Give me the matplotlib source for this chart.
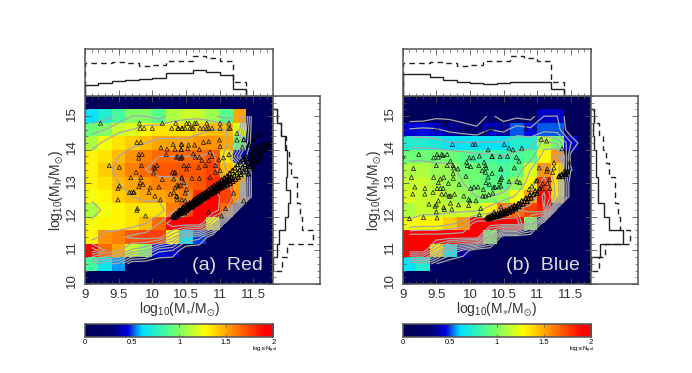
import numpy as np
import matplotlib
matplotlib.use("Agg")
import matplotlib.pyplot as plt
from matplotlib.colors import LinearSegmentedColormap
from matplotlib.ticker import MultipleLocator
from matplotlib.transforms import ScaledTranslation

plt.rcParams['font.family'] = ['Liberation Sans', 'DejaVu Sans']
plt.rcParams['mathtext.default'] = 'regular'

# === Data ===
x_edges = [9.0, 9.2, 9.4, 9.6, 9.8, 10.0, 10.2, 10.4, 10.6, 10.8, 11.0, 11.2, 11.4, 11.6, 11.8]
y_edges = [15.2, 14.8, 14.4, 14.0, 13.6, 13.2, 12.8, 12.4, 12.0, 11.6, 11.2, 10.8, 10.4]

red_grid = [
    [.62, .72, .85, 1.0, 1.0, .9, 1.1, 1.15, 1.15, 1.05, .9, 1.5, 0, 0],
    [.95, 1.0, 1.15, 1.2, 1.3, 1.35, 1.35, 1.35, 1.4, 1.45, 1.45, 1.2, 0, 0],
    [1.1, 1.25, 1.35, 1.4, 1.45, 1.5, 1.5, 1.5, 1.55, 1.55, 1.5, .95, 0, 0],
    [1.3, 1.35, 1.45, 1.55, 1.6, 1.65, 1.65, 1.65, 1.65, 1.7, 1.35, .4, 0, 0],
    [1.3, 1.4, 1.5, 1.6, 1.65, 1.7, 1.7, 1.7, 1.7, 1.75, 1.45, 1.25, 0, 0],
    [1.3, 1.35, 1.45, 1.5, 1.55, 1.6, 1.6, 1.65, 1.7, 1.8, 1.7, 1.5, 0, 0],
    [1.25, 1.3, 1.4, 1.45, 1.5, 1.5, 1.55, 1.6, 1.8, 1.95, 1.75, 1.55, 0, 0],
    [1.1, 1.25, 1.3, 1.35, 1.35, 1.35, 1.6, 1.75, 2.0, 2.0, 1.65, 0, 0, 0],
    [1.25, 1.3, 1.3, 1.35, 1.45, 1.65, 2.0, 2.0, 2.0, 1.3, 0, 0, 0, 0],
    [1.3, 1.55, 1.6, 1.7, 1.75, 1.75, 1.3, .62, .48, 0, 0, 0, 0, 0],
    [2.0, 1.65, 1.5, 1.15, 1.0, .45, .4, 0, 0, 0, 0, 0, 0, 0],
    [.85, .65, .55, 0, 0, 0, 0, 0, 0, 0, 0, 0, 0, 0],
]
blue_grid = [
    [.05, .05, .15, .15, .1, .05, .25, .1, .15, .1, .4, .4, 0, 0],
    [.42, .45, .42, .35, .3, .25, .4, .35, .5, .45, .5, .5, 0, 0],
    [.72, .72, .68, .62, .62, .62, .62, .62, .72, .72, 1.1, .95, .42, 0],
    [.95, .95, .95, .95, .9, .85, .85, .8, .85, .9, 1.3, 1.55, .12, 0],
    [1.1, 1.1, 1.05, 1.05, .95, .95, .9, .85, .9, 1.2, 1.55, 1.35, .22, 0],
    [1.15, 1.15, 1.1, 1.05, 1.0, .95, .9, .9, 1.05, 1.3, 1.75, 1.35, 0, 0],
    [1.2, 1.15, 1.15, 1.1, 1.05, 1.0, 1.0, 1.05, 1.25, 1.5, 1.9, 1.35, 0, 0],
    [1.1, 1.15, 1.15, 1.15, 1.15, 1.15, 1.3, 1.6, 1.65, 1.75, 1.85, 0, 0, 0],
    [1.25, 1.3, 1.3, 1.4, 1.55, 2.0, 2.0, 2.0, 2.0, 1.0, 0, 0, 0, 0],
    [2.0, 2.0, 2.0, 2.0, 2.0, 2.0, 1.0, 0, 0, 0, 0, 0, 0, 0],
    [2.0, 2.0, 1.35, .65, .35, 0, 0, 0, 0, 0, 0, 0, 0, 0],
    [.62, .72, .2, 0, 0, 0, 0, 0, 0, 0, 0, 0, 0, 0],
]

top_red_solid = [.243, .286, .32, .343, .357, .393, .479, .5, .543, .507, .45, .143, 0, 0]
top_blue_solid = [.464, .464, .4, .343, .3, .279, .264, .279, .307, .293, .307, .157, 0, 0]
top_dashed = [.693, .707, .729, .707, .643, .664, .736, .736, .85, .8, .75, .3, 0, 0]

side_red_solid = [.07, .157, .257, .286, .3, .28, .36, .32, .25, .13, .07, .0]
side_blue_solid = [.07, .05, .07, .11, .11, .14, .157, .286, .386, .69, .2, 0]
side_dashed = [.07, .17, .26, .325, .375, .5, .5, .575, .61, .84, .295, .18]

red_sparse = [
    (9.23, 14.79), (9.81, 14.79), (10.15, 14.79), (10.35, 14.79), (9.82, 14.64), (9.88, 14.64),
    (10.0, 14.64), (10.29, 14.64), (10.39, 14.64), (10.45, 14.64), (9.77, 14.22), (9.83, 14.22),
    (10.13, 14.06), (10.22, 14.02), (10.31, 14.16), (10.34, 14.01), (10.44, 14.16), (10.43, 14.01),
    (9.8, 13.86), (9.85, 13.86), (9.8, 13.75), (10.21, 13.86), (10.38, 13.8), (10.44, 13.8),
    (10.42, 13.74), (9.36, 13.53), (9.51, 13.48), (9.84, 13.53), (10.07, 13.53), (10.02, 13.48),
    (10.04, 13.45), (10.3, 13.33), (10.33, 13.3), (9.76, 13.33), (10.02, 13.31), (10.47, 13.53),
    (9.68, 13.17), (9.83, 13.18), (10.15, 13.12), (10.32, 13.13), (10.44, 13.18), (9.82, 13.02),
    (9.86, 12.97), (9.8, 12.9), (9.97, 12.87), (10.1, 12.89), (10.37, 12.95), (10.42, 12.94),
    (10.34, 12.87), (9.51, 12.92), (9.49, 12.85), (9.73, 12.74), (10.47, 13.02),
    (10.51, 14.79), (10.55, 14.79), (10.63, 14.79), (10.66, 14.79), (10.81, 14.79), (11.01, 14.79),
    (11.14, 14.79), (10.38, 14.64), (10.44, 14.64), (10.49, 14.64), (10.56, 14.64), (10.59, 14.64),
    (10.61, 14.64), (10.71, 14.64), (10.76, 14.64), (10.81, 14.64), (10.84, 14.64), (10.89, 14.64),
    (11.01, 14.64), (11.14, 14.64), (11.16, 14.64), (11.26, 14.49), (11.26, 14.29), (10.84, 14.24),
    (10.76, 14.22), (11.0, 14.29), (11.01, 14.1), (11.34, 14.08), (10.54, 14.14), (10.53, 14.03),
    (10.43, 14.16), (10.43, 14.01), (10.7, 14.01), (10.63, 14.14), (10.36, 13.78), (10.44, 13.76),
    (10.61, 13.88), (10.7, 13.78), (10.64, 13.78), (10.86, 13.93), (10.89, 13.8), (11.06, 13.76),
    (11.14, 13.86), (10.74, 13.68), (10.84, 13.68), (10.99, 13.7), (10.54, 13.53), (10.51, 13.43),
    (10.69, 13.48), (10.79, 13.53), (10.94, 13.53), (11.01, 13.38), (10.34, 13.33), (10.44, 13.15),
    (10.59, 13.15), (10.7, 13.15), (10.86, 13.18), (10.94, 13.33), (10.39, 12.92), (10.51, 12.82),
    (11.0, 12.92), (9.49, 12.51), (9.66, 12.73), (9.72, 12.73), (9.69, 12.73), (9.95, 12.73),
    (10.04, 12.62), (10.12, 12.51), (10.27, 12.68), (10.32, 12.73), (10.37, 12.61), (10.37, 12.51),
    (9.78, 12.25), (9.77, 12.2), (9.9, 12.03), (10.44, 12.51), (10.36, 12.61), (10.49, 12.71),
    (10.49, 12.48), (11.36, 12.48), (11.21, 12.71), (11.09, 12.25), (11.03, 12.03), (10.84, 12.15),
    (10.64, 12.41),
]
red_dense = [
    (10.3, 12.0), (10.32, 12.05), (10.33, 11.98), (10.35, 12.1), (10.36, 12.02), (10.38, 12.15),
    (10.39, 12.06), (10.4, 12.2), (10.41, 12.1), (10.43, 12.12), (10.44, 12.25), (10.45, 12.16),
    (10.46, 12.3), (10.47, 12.2), (10.48, 12.12), (10.5, 12.35), (10.5, 12.25), (10.51, 12.18),
    (10.52, 12.3), (10.54, 12.38), (10.54, 12.24), (10.55, 12.32), (10.56, 12.42), (10.57, 12.28),
    (10.58, 12.36), (10.6, 12.46), (10.6, 12.32), (10.61, 12.4), (10.62, 12.52), (10.63, 12.36),
    (10.64, 12.46), (10.65, 12.56), (10.66, 12.4), (10.67, 12.5), (10.68, 12.6), (10.69, 12.44),
    (10.7, 12.55), (10.71, 12.64), (10.72, 12.48), (10.73, 12.58), (10.74, 12.68), (10.75, 12.52),
    (10.76, 12.62), (10.78, 12.72), (10.78, 12.56), (10.8, 12.66), (10.81, 12.76), (10.82, 12.6),
    (10.83, 12.7), (10.84, 12.82), (10.86, 12.66), (10.87, 12.76), (10.88, 12.88), (10.89, 12.7),
    (10.9, 12.82), (10.92, 12.94), (10.93, 12.74), (10.94, 12.86), (10.96, 12.98), (10.97, 12.78),
    (10.98, 12.92), (11.0, 13.02), (11.0, 12.84), (11.02, 12.96), (11.03, 13.1), (11.04, 12.88),
    (11.06, 13.02), (11.07, 13.16), (11.08, 12.92), (11.1, 13.06), (11.11, 13.22), (11.12, 12.96),
    (11.14, 13.12), (11.15, 13.3), (11.16, 13.0), (11.18, 13.18), (11.19, 13.38), (11.2, 13.06),
    (11.22, 13.24), (11.23, 13.46), (11.24, 13.12), (11.26, 13.32), (11.27, 13.56), (11.28, 13.18),
    (11.3, 13.4), (11.31, 13.64), (11.32, 13.26), (11.34, 13.48), (11.35, 13.72), (11.36, 13.34),
    (11.38, 13.56), (11.39, 13.8), (11.4, 13.42), (11.42, 13.64), (11.43, 13.28), (11.44, 13.5),
    (11.46, 13.72), (11.47, 13.9), (11.48, 13.56), (11.5, 13.78), (11.51, 13.44), (11.52, 14.0),
    (11.54, 13.64), (11.55, 13.84), (11.57, 14.08), (11.58, 13.72), (11.6, 13.92), (11.62, 13.8),
    (11.64, 14.12), (11.65, 13.98), (11.68, 14.16), (11.7, 14.05), (11.72, 14.2), (11.36, 14.3),
    (11.5, 14.3), (11.44, 14.15), (11.6, 14.45),
    (10.37, 12.07), (10.42, 12.16), (10.44, 12.18), (10.49, 12.24), (10.52, 12.22), (10.53, 12.28),
    (10.56, 12.3), (10.58, 12.3), (10.59, 12.38), (10.62, 12.38), (10.64, 12.4), (10.65, 12.44),
    (10.67, 12.44), (10.68, 12.5), (10.7, 12.48), (10.72, 12.54), (10.74, 12.56), (10.75, 12.6),
    (10.77, 12.58), (10.79, 12.66), (10.8, 12.6), (10.82, 12.68), (10.84, 12.7), (10.85, 12.74),
    (10.87, 12.7), (10.88, 12.78), (10.9, 12.76), (10.91, 12.84), (10.93, 12.82), (10.95, 12.86),
    (10.96, 12.9), (10.98, 12.88), (11.0, 12.94), (11.01, 12.9), (11.03, 12.98), (11.05, 12.96),
    (11.06, 13.06), (11.08, 13.02), (11.1, 13.12), (11.12, 13.06), (11.14, 13.18), (11.16, 13.12),
]
blue_sparse = [
    (9.59, 14.77), (9.63, 14.77), (9.5, 14.64), (9.72, 14.64), (9.92, 14.64), (10.29, 14.64),
    (10.32, 14.64), (10.23, 14.49), (9.74, 14.16), (10.04, 14.16), (10.08, 14.16), (10.27, 14.0),
    (9.0, 13.8), (9.24, 13.86), (9.46, 13.76), (9.51, 13.86), (9.53, 13.78), (9.58, 13.86),
    (9.6, 13.83), (9.66, 13.86), (9.99, 13.76), (10.05, 13.76), (10.14, 13.81), (10.33, 13.8),
    (9.16, 13.44), (9.5, 13.53), (9.66, 13.53), (9.71, 13.66), (9.75, 13.53), (9.76, 13.46),
    (9.82, 13.43), (9.95, 13.63), (9.96, 13.53), (10.01, 13.5), (10.13, 13.53), (10.21, 13.63),
    (10.23, 13.53), (10.24, 13.46), (10.18, 13.38), (10.23, 13.33), (10.33, 13.3), (10.46, 13.43),
    (9.13, 13.18), (9.46, 13.18), (9.61, 13.18), (9.56, 13.13), (9.53, 13.02), (9.75, 13.3),
    (9.75, 13.15), (9.94, 13.21), (10.27, 13.18), (9.18, 12.89), (9.33, 12.85), (9.51, 12.85),
    (9.56, 12.85), (9.6, 12.85), (9.68, 13.0), (9.84, 12.97), (10.01, 12.85), (10.06, 12.89),
    (10.12, 12.89), (10.2, 12.82), (10.24, 13.02), (10.29, 12.97), (10.37, 12.89), (10.46, 12.92),
    (10.46, 13.12), (10.48, 14.64), (10.83, 14.64), (10.97, 14.64), (11.06, 14.31), (11.14, 14.26),
    (11.37, 14.03), (10.51, 14.16), (10.58, 14.05), (10.64, 14.0), (10.77, 14.05), (10.33, 13.8),
    (10.45, 13.8), (10.56, 13.8), (10.69, 13.78), (10.73, 13.66), (11.25, 13.61), (11.48, 13.61),
    (11.15, 13.43), (11.03, 13.46), (11.25, 13.46), (11.14, 13.36), (11.23, 13.33), (10.66, 13.46),
    (10.46, 13.43), (11.4, 13.36), (11.45, 13.38), (11.33, 13.23), (10.47, 13.18), (10.44, 13.05),
    (10.58, 13.05), (10.7, 13.05), (10.74, 13.02), (11.0, 13.09), (10.98, 13.07), (11.18, 13.11),
    (11.08, 13.0), (11.15, 13.0), (11.19, 12.85), (11.08, 12.85), (10.92, 12.92), (10.88, 12.82),
    (10.35, 12.87), (10.43, 12.89), (9.15, 12.68), (9.33, 12.68), (9.45, 12.73), (9.58, 12.68),
    (9.64, 12.68), (9.69, 12.62), (9.71, 12.62), (9.77, 12.68), (9.91, 12.62), (9.98, 12.52),
    (10.0, 12.48), (10.09, 12.48), (10.19, 12.62), (10.23, 12.62), (10.28, 12.66), (10.34, 12.71),
    (9.53, 12.48), (9.5, 12.36), (9.48, 12.32), (9.61, 12.28), (9.62, 12.22), (9.5, 12.15),
    (9.71, 12.41), (9.73, 12.23), (9.83, 12.36), (9.98, 12.34), (10.16, 12.25), (9.39, 12.38),
    (9.31, 11.98), (9.1, 11.95), (9.51, 11.97), (10.14, 12.07), (10.36, 12.15), (10.46, 12.3),
]
blue_dense = [
    (10.25, 11.97), (10.27, 12.0), (10.28, 11.94), (10.3, 12.02), (10.31, 11.96), (10.33, 12.05),
    (10.34, 11.98), (10.35, 12.02), (10.37, 12.08), (10.38, 12.0), (10.39, 12.05), (10.41, 12.1),
    (10.42, 12.02), (10.43, 12.07), (10.45, 12.13), (10.46, 12.05), (10.47, 12.1), (10.49, 12.16),
    (10.5, 12.08), (10.52, 12.14), (10.53, 12.2), (10.54, 12.1), (10.56, 12.18), (10.58, 12.24),
    (10.59, 12.14), (10.6, 12.2), (10.62, 12.28), (10.63, 12.18), (10.65, 12.26), (10.66, 12.34),
    (10.68, 12.24), (10.7, 12.32), (10.72, 12.4), (10.73, 12.3), (10.75, 12.38), (10.77, 12.48),
    (10.79, 12.38), (10.81, 12.46), (10.83, 12.56), (10.85, 12.46), (10.87, 12.54), (10.89, 12.66),
    (10.91, 12.56), (10.94, 12.66), (10.97, 12.78), (11.0, 12.7), (11.04, 12.85),
    (11.32, 13.2), (11.36, 13.26), (11.38, 13.2), (11.41, 13.3), (11.43, 13.26), (11.45, 13.35),
]

# === Colormap: navy, blue, cyan, green, yellow, orange, red ===
cmap = LinearSegmentedColormap.from_list("ngal", [
    (0.0, '#00005a'), (0.14, '#00006e'), (0.22, '#0000e0'), (0.3, '#00e0ff'),
    (0.45, '#55ff88'), (0.64, '#ffff00'), (0.78, '#ff9000'), (0.96, '#ff0000'), (1.0, '#ff0000')])

SPINE = '#555555'
TEXT = '#333333'
W, H = 692.0, 373.0
fig = plt.figure(figsize=(W / 100, H / 100), dpi=100)


def place(x0, y0, x1, y1):
    return fig.add_axes([x0 / W, 1 - y1 / H, (x1 - x0) / W, (y1 - y0) / H])


def style(ax):
    for s in ax.spines.values():
        s.set_color(SPINE)
        s.set_linewidth(1.1)
    ax.tick_params(which='major', direction='in', length=4.5, width=0.6, color=SPINE,
                   top=True, right=True, labelsize=9.5, labelcolor=TEXT)
    ax.tick_params(which='minor', direction='in', length=2.3, width=0.5, color=SPINE,
                   top=True, right=True)
    ax.tick_params(axis='x', which='major', pad=3.5)
    ax.tick_params(axis='y', which='major', pad=5)


def draw_panel(x0, grid, sparse, dense, top_solid, side_solid, name):
    ax = place(x0, 96, x0 + 188.3, 284)
    values = np.array(grid)
    ax.set_facecolor(cmap(0.0))
    ax.pcolormesh(x_edges, y_edges, values, cmap=cmap, vmin=0, vmax=2, rasterized=True)

    xc = (np.array(x_edges[:-1]) + np.array(x_edges[1:])) / 2
    yc = (np.array(y_edges[:-1]) + np.array(y_edges[1:])) / 2
    ax.contour(xc, yc[::-1], values[::-1], levels=[.2, .4, .6, .8, 1.0, 1.2, 1.45, 1.65, 1.85],
               colors='#a8a8a8', linewidths=0.9)

    sp = np.array(sparse)
    de = np.array(dense)
    ax.scatter(sp[:, 0], sp[:, 1], marker='^', s=9, facecolors='none',
               edgecolors='#111111', linewidths=0.5, zorder=3)
    ax.scatter(de[:, 0], de[:, 1], marker='^', s=9, facecolors='none',
               edgecolors='#000000', linewidths=0.75, zorder=3)

    ax.set_xlim(9, 11.8)
    ax.set_ylim(10, 15.6)
    style(ax)
    ax.xaxis.set_major_locator(MultipleLocator(0.5))
    ax.xaxis.set_minor_locator(MultipleLocator(0.1))
    ax.yaxis.set_major_locator(MultipleLocator(1))
    ax.yaxis.set_minor_locator(MultipleLocator(0.2))
    ax.set_xticks([9, 9.5, 10, 10.5, 11, 11.5], ['9', '9.5', '10', '10.5', '11', '11.5'])
    ax.set_yticks([10, 11, 12, 13, 14, 15], ['10', '11', '12', '13', '14', '15'])
    shift = ScaledTranslation(0, 3 / 100, fig.dpi_scale_trans)
    for lab in ax.get_yticklabels():
        lab.set_rotation(90)
        lab.set_va('center')
        lab.set_transform(lab.get_transform() + shift)
    ax.set_xlabel(r'log$_{10}$(M$_{\ast}$/M$_{\odot}$)', fontsize=10, labelpad=0, color=TEXT)
    ax.set_ylabel(r'log$_{10}$(M$_{h}$/M$_{\odot}$)', fontsize=10, labelpad=0, color=TEXT)
    ax.text(11.64, 10.54, name, color='#dddddd', fontsize=14, ha='right', va='center')

    top = place(x0, 49, x0 + 188.3, 96)
    top.stairs(top_solid, x_edges, color='#222222', lw=1.0)
    top.stairs(top_dashed, x_edges, color='#222222', lw=1.0, ls=(0, (4, 3)))
    top.set_xlim(9, 11.8)
    top.set_ylim(0, 1)
    style(top)
    top.xaxis.set_major_locator(MultipleLocator(0.5))
    top.xaxis.set_minor_locator(MultipleLocator(0.1))
    top.set_yticks([])
    top.tick_params(labelbottom=False)

    side = place(x0 + 188.3, 96, x0 + 235.3, 284)
    side.stairs(side_solid, y_edges, orientation='horizontal', color='#222222', lw=1.0)
    side.stairs(side_dashed, y_edges, orientation='horizontal', color='#222222', lw=1.0, ls=(0, (4, 3)))
    side.set_xlim(0, 1)
    side.set_ylim(10, 15.6)
    style(side)
    side.yaxis.set_major_locator(MultipleLocator(1))
    side.yaxis.set_minor_locator(MultipleLocator(0.2))
    side.set_xticks([])
    side.tick_params(labelleft=False)

    bar = place(x0, 324, x0 + 188.3, 337)
    bar.imshow(np.linspace(0, 2, 64)[None, :], extent=[0, 2, 0, 1], aspect='auto', cmap=cmap, vmin=0, vmax=2)
    for s in bar.spines.values():
        s.set_color(SPINE)
        s.set_linewidth(1.1)
    bar.set_yticks([])
    bar.set_xticks([0, 0.5, 1, 1.5, 2], ['0', '0.5', '1', '1.5', '2'])
    bar.tick_params(direction='in', length=2, width=0.5, color=SPINE, labelsize=5.5, pad=1.5, top=True)
    bar.text(2.04, -1.02, r'log$_{10}$N$_{gal}$', fontsize=4.5, ha='right', va='center')


draw_panel(85, red_grid, red_sparse, red_dense, top_red_solid, side_red_solid, '(a)  Red')
draw_panel(402.7, blue_grid, blue_sparse, blue_dense, top_blue_solid, side_blue_solid, '(b)  Blue')

fig.savefig("out.png", dpi=100)
